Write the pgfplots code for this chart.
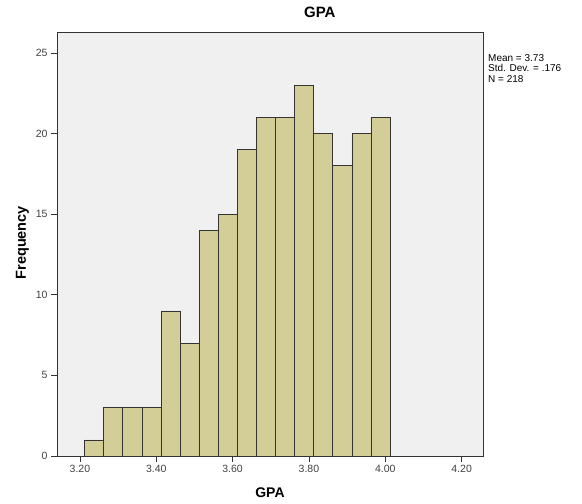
\documentclass[border=0pt]{standalone}
\usepackage{fontspec}
\setmainfont{Liberation Sans}
\usepackage{pgfplots}
\pgfplotsset{compat=1.18}
\definecolor{bartan}{HTML}{D3CE97}
\definecolor{plotbg}{HTML}{F0F0F0}
\definecolor{edgegray}{HTML}{333333}
\begin{document}
\begin{tikzpicture}[x=1pt,y=1pt]
\useasboundingbox (0,0) rectangle (582,504);
\begin{axis}[
    name=hist,
    at={(57pt,48pt)}, anchor=south west,
    scale only axis,
    width=426pt, height=424pt,
    xmin=3.14, xmax=4.256,
    ymin=0, ymax=26.3,
    axis background/.style={fill=plotbg},
    axis line style={edgegray, line width=0.8pt},
    xtick={3.2,3.4,3.6,3.8,4.0,4.2},
    ytick={0,5,10,15,20,25},
    xticklabel style={/pgf/number format/.cd, fixed, fixed zerofill, precision=2},
    tick align=outside,
    xtick pos=bottom, ytick pos=left,
    major tick length=6pt,
    tick style={edgegray, line width=0.8pt},
    ticklabel style={font=\fontsize{10.5}{12}\selectfont, text=black!75},
    /pgf/number format/assume math mode=true,
    title={\textbf{GPA}},
    title style={at={(axis description cs:0.617,1.019)}, anchor=base, font=\fontsize{15}{17}\selectfont},
    xlabel={\textbf{GPA}},
    xlabel style={at={(axis description cs:0.5,0)}, anchor=base, yshift=-42pt, font=\fontsize{14}{16}\selectfont},
    ylabel={\textbf{Frequency}},
    ylabel style={at={(axis description cs:0,0.503)}, anchor=base, yshift=31pt, font=\fontsize{14.5}{16}\selectfont},
]
\addplot[ybar interval, fill=bartan, draw=edgegray, line width=0.7pt] coordinates {
(3.2125,1) (3.2625,3) (3.3125,3) (3.3625,3) (3.4125,9) (3.4625,7)
(3.5125,14) (3.5625,15) (3.6125,19) (3.6625,21) (3.7125,21) (3.7625,23)
(3.8125,20) (3.8625,18) (3.9125,20) (3.9625,21) (4.0125,21)
};
\end{axis}
\node[anchor=north west, align=left, inner sep=0pt, font=\fontsize{10}{10.5}\selectfont,
      xshift=5pt, yshift=-22pt] at (hist.north east) {Mean = 3.73\\Std. Dev. = .176\\N = 218};
\end{tikzpicture}
\end{document}
